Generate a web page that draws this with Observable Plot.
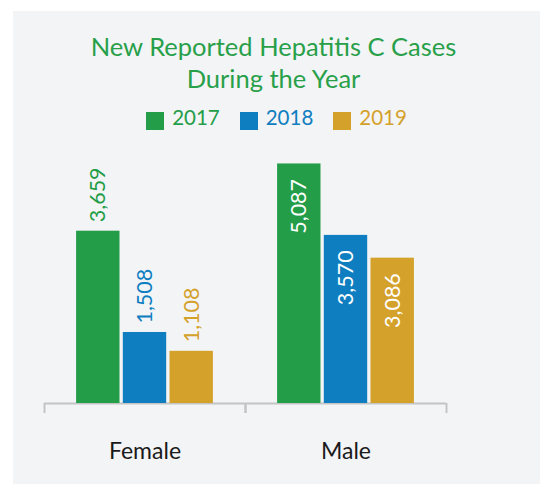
<!DOCTYPE html>
<html>
<head>
<meta charset="utf-8">
<script src="https://cdn.jsdelivr.net/npm/d3@7"></script>
<script src="https://cdn.jsdelivr.net/npm/@observablehq/plot@0.6"></script>
<style>
  html, body { margin: 0; padding: 0; background: #ffffff; }
  body { width: 540px; height: 484px; position: relative; overflow: hidden; font-family: Lato, "Open Sans", sans-serif; }
  #panel { position: absolute; left: 13px; top: 11px; width: 527px; height: 473px; background: #f3f4f6; }
  #title { position: absolute; left: 10px; width: 527px; top: 30px; text-align: center; font-size: 25.5px; line-height: 32px; color: #28a04a; }
  #legend { position: absolute; left: 13px; width: 527px; top: 105px; text-align: center; font-size: 20.5px; line-height: 24px; white-space: nowrap; }
  .item { display: inline-block; margin: 0 10px; }
  .sw { display: inline-block; width: 18px; height: 18px; vertical-align: -5px; margin-right: 8px; }
  #chart { position: absolute; left: 0; top: 130px; }
</style>
</head>
<body>
<div id="panel"></div>
<div id="title">New Reported Hepatitis C Cases<br>During the Year</div>
<div id="legend"></div>
<div id="chart"></div>
<script>
// ---- data ----
const sexes = ["Female", "Male"];
const years = [2017, 2018, 2019];
const colors = ["#249d48", "#0f7ec0", "#d4a12b"];
const femaleCases = [3659, 1508, 1108];
const maleCases = [5087, 3570, 3086];

const data = [
  ...years.map((y, i) => ({sex: "Female", year: y, value: femaleCases[i]})),
  ...years.map((y, i) => ({sex: "Male", year: y, value: maleCases[i]}))
];
const fmt = d3.format(",");

// legend
const legend = document.getElementById("legend");
years.forEach((y, i) => {
  const it = document.createElement("span");
  it.className = "item";
  it.style.color = colors[i];
  const sw = document.createElement("span");
  sw.className = "sw";
  sw.style.background = colors[i];
  it.appendChild(sw);
  it.appendChild(document.createTextNode(String(y)));
  legend.appendChild(it);
});

const pad = 0.652;
const xDomain = [years[0] - pad, years[years.length - 1] + 1 + pad];

const chart = Plot.plot({
  width: 540,
  height: 354,
  marginLeft: 44,
  marginRight: 94,
  marginTop: 14,
  marginBottom: 81,
  style: {background: "transparent", fontFamily: "Lato, 'Open Sans', sans-serif", overflow: "visible"},
  fx: {domain: sexes, paddingInner: 0, paddingOuter: 0},
  x: {type: "linear", domain: xDomain, axis: null},
  y: {domain: [0, 5500], axis: null},
  color: {type: "ordinal", domain: years, range: colors},
  marks: [
    Plot.ruleY([0], {stroke: "#c4c4c4", strokeWidth: 2}),
    Plot.ruleX(xDomain, {x: d => d, y1: 0, y2: 0, insetBottom: -10, stroke: "#c4c4c4", strokeWidth: 2}),
    Plot.rectY(data, {
      fx: "sex", x1: "year", x2: d => d.year + 1, y1: 0, y2: "value",
      fill: "year", insetLeft: 1.65, insetRight: 1.65
    }),
    Plot.text(data.filter(d => d.sex === "Female"), {
      fx: "sex", x: d => d.year + 0.5, y: "value", text: d => fmt(d.value),
      rotate: -90, textAnchor: "start", dy: -9, fill: "year", fontSize: 21.5
    }),
    Plot.text(data.filter(d => d.sex === "Male"), {
      fx: "sex", x: d => d.year + 0.5, y: "value", text: d => fmt(d.value),
      rotate: -90, textAnchor: "end", dy: 15, fill: "white", fontSize: 21.5
    }),
    Plot.axisFx({anchor: "bottom", tickSize: 0, tickPadding: 39, fontSize: 23, fill: "#1a1a1a", label: null})
  ]
});
document.getElementById("chart").appendChild(chart);
</script>
</body>
</html>
